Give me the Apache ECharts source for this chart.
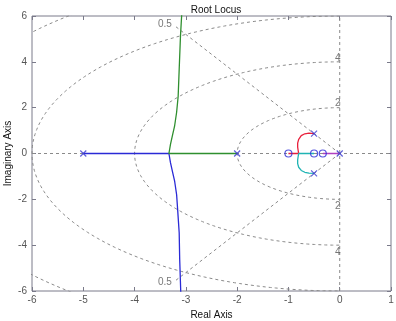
<!DOCTYPE html>
<html>
<head>
<meta charset="utf-8">
<script src="https://cdn.jsdelivr.net/npm/echarts@6/dist/echarts.min.js"></script>
<style>html,body{margin:0;padding:0;background:#fff}#c{width:396px;height:321px}</style>
</head>
<body>
<div id="c"></div>
<script>
// ---- data ----
var xTicks = [-6, -5, -4, -3, -2, -1, 0, 1];
var yTicks = [-6, -4, -2, 0, 2, 4, 6];
var poles = [[-5, 0], [-2, 0], [0, 0], [-0.5, 0.866], [-0.5, -0.866]];
var zeros = [[-1, 0], [-0.5, 0], [-0.33, 0]];
var blueBranch = [[-5, 0], [-3.33, 0], [-3.30, -0.4], [-3.26, -0.8], [-3.22, -1.19], [-3.18, -1.8], [-3.16, -2.45], [-3.13, -3.46], [-3.12, -4.63], [-3.10, -6.0], [-3.09, -6.6]];
var greenBranch = [[-2, 0], [-3.33, 0], [-3.30, 0.4], [-3.26, 0.8], [-3.22, 1.19], [-3.18, 1.8], [-3.15, 2.5], [-3.13, 3.67], [-3.105, 5.12], [-3.08, 6.1], [-3.07, 6.6]];
var redBranch = [[-0.5, 0.866], [-0.6, 0.885], [-0.68, 0.86], [-0.75, 0.78], [-0.8, 0.62], [-0.82, 0.45], [-0.82, 0.28], [-0.81, 0.13], [-0.8, 0], [-1, 0]];
var cyanBranch = [[-0.5, -0.866], [-0.6, -0.86], [-0.68, -0.82], [-0.75, -0.74], [-0.8, -0.6], [-0.82, -0.44], [-0.82, -0.28], [-0.81, -0.13], [-0.8, 0], [-0.5, 0]];
var magentaBranch = [[0, 0], [-0.33, 0]];
var dampingRatios = [0.5];
var dampingLineRadius = 6.4;
var naturalFreqs = [2, 4, 6, 8];
var wnLabels = ['2', '4', '2', '4'];
var wnLabelY = [2, 4, -2, -4];
var zetaLabels = ['0.5', '0.5'];
var zetaLabelPos = [[-3.41, 5.63], [-3.41, -5.63]];

// ---- build grid (sgrid) lines ----
var gridSeries = [];
var dashStyle = {color: '#8a8a8a', width: 1, type: [3, 3]};
function addGridLine(pts) {
  gridSeries.push({type: 'line', data: pts, symbol: 'none', silent: true, z: 1,
    lineStyle: dashStyle, animation: false, clip: true});
}
// zeta = 0 (imag axis) and zeta = 1 (real axis)
addGridLine([[0, -6], [0, 6]]);
addGridLine([[-6, 0], [1, 0]]);
dampingRatios.forEach(function (z) {
  var s = Math.sqrt(1 - z * z), R = dampingLineRadius;
  addGridLine([[0, 0], [-R * z, R * s]]);
  addGridLine([[0, 0], [-R * z, -R * s]]);
});
naturalFreqs.forEach(function (w) {
  var pts = [];
  for (var i = 0; i <= 180; i++) {
    var a = Math.PI / 2 + Math.PI * i / 180;
    pts.push([w * Math.cos(a), w * Math.sin(a)]);
  }
  addGridLine(pts);
});

var font = 'Liberation Sans, Arial, sans-serif';
var xMark = 'path://M0,0L10,10M10,0L0,10';
function branch(data, color) {
  return {type: 'line', data: data, symbol: 'none', z: 3, animation: false, clip: true,
    lineStyle: {color: color, width: 1.3}};
}

var labelData = wnLabelY.map(function (y, i) {
  return {value: [0, y], label: {formatter: wnLabels[i], offset: [-2, y > 0 ? -4 : 7]}};
});
var zetaData = zetaLabelPos.map(function (p, i) {
  return {value: p, label: {formatter: zetaLabels[i]}};
});

var tickStyle = {show: true, inside: true, length: 4, lineStyle: {color: '#7a7a8a'}};
var chart = echarts.init(document.getElementById('c'));
chart.setOption({
  animation: false,
  title: {text: 'Root Locus', left: 211, textAlign: 'center', top: 0,
    textStyle: {fontFamily: font, fontSize: 10, fontWeight: 'normal', color: '#111'}},
  grid: {left: 32, top: 16, width: 359, height: 275, show: true, borderColor: '#7a7a8a', borderWidth: 1,
    containLabel: false, outerBoundsMode: 'none'},
  xAxis: [{
    type: 'value', min: -6, max: 1, interval: 1, position: 'bottom',
    name: 'Real Axis', nameLocation: 'middle', nameGap: 19, nameMoveOverlap: false,
    nameTextStyle: {fontFamily: font, fontSize: 10, color: '#111'},
    axisLine: {show: false, onZero: false}, splitLine: {show: false},
    axisTick: tickStyle,
    axisLabel: {fontFamily: font, fontSize: 10, color: '#555', margin: 4,
      formatter: function (v) { return xTicks.indexOf(v) >= 0 ? String(v) : ''; }}
  }, {
    type: 'value', min: -6, max: 1, interval: 1, position: 'top',
    axisLine: {show: false, onZero: false}, splitLine: {show: false}, axisLabel: {show: false},
    axisTick: tickStyle
  }],
  yAxis: [{
    type: 'value', min: -6, max: 6, interval: 2, position: 'left',
    name: 'Imaginary Axis', nameLocation: 'middle', nameGap: 19, nameMoveOverlap: false,
    nameTextStyle: {fontFamily: font, fontSize: 10, color: '#111'},
    axisLine: {show: false, onZero: false}, splitLine: {show: false},
    axisTick: tickStyle,
    axisLabel: {fontFamily: font, fontSize: 10, color: '#555', margin: 5,
      formatter: function (v) { return yTicks.indexOf(v) >= 0 ? String(v) : ''; }}
  }, {
    type: 'value', min: -6, max: 6, interval: 2, position: 'right',
    axisLine: {show: false, onZero: false}, splitLine: {show: false}, axisLabel: {show: false},
    axisTick: tickStyle
  }],
  series: gridSeries.concat([
    branch(blueBranch, '#2a2ad6'),
    branch(greenBranch, '#2f8f2f'),
    branch(redBranch, '#e8203c'),
    branch(cyanBranch, '#20b4b4'),
    branch(magentaBranch, '#b040c0'),
    {type: 'scatter', data: poles, symbol: xMark, symbolSize: 6, z: 5, animation: false,
      itemStyle: {color: 'rgba(0,0,0,0)', borderColor: '#3a3ad0', borderWidth: 1.2}},
    {type: 'scatter', data: zeros, symbol: 'circle', symbolSize: 7, z: 5, animation: false,
      itemStyle: {color: 'rgba(0,0,0,0)', borderColor: '#2a2ad6', borderWidth: 1.2}},
    {type: 'scatter', data: labelData, symbolSize: 0, z: 4, silent: true, animation: false,
      label: {show: true, position: 'inside', fontFamily: font, fontSize: 10, color: '#555'}},
    {type: 'scatter', data: zetaData, symbolSize: 0, z: 4, silent: true, animation: false,
      label: {show: true, position: 'inside', fontFamily: font, fontSize: 10, color: '#555'}}
  ])
});
</script>
</body>
</html>
